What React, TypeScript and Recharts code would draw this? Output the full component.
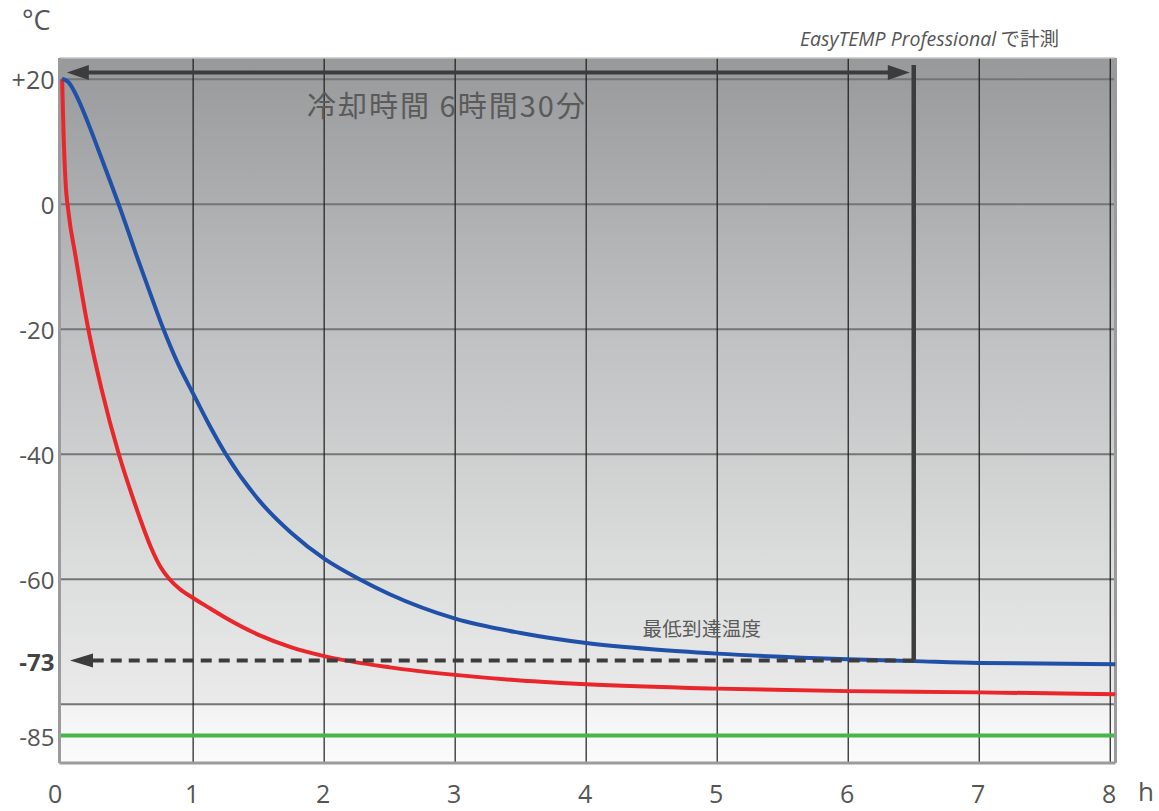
import React from 'react';
import { LineChart, Line, XAxis, YAxis, ReferenceLine, ReferenceArea, ReferenceDot } from 'recharts';

// ---- data ----
const hourTicks = [0, 1, 2, 3, 4, 5, 6, 7, 8];
const tempTicks = [20, 0, -20, -40, -60, -73, -85];
const gridTemps = [20, 0, -20, -40, -60, -80];
const gridHours = [1, 2, 3, 4, 5, 6, 7, 8];

const blueTime = [0, 0.05, 0.12, 0.2, 0.3, 0.44, 0.58, 0.68, 0.77, 0.88, 1.0, 1.12, 1.25, 1.5, 1.75, 2.0, 2.27, 2.5, 3.0, 3.5, 4.0, 4.5, 5.0, 6.0, 6.5, 7.0, 8.04];
const blueTemp = [20.1, 19.5, 16.9, 12.9, 7.4, -0.5, -8.9, -14.7, -19.8, -25.3, -30.3, -35.2, -40, -47.3, -52.6, -56.7, -60, -62.4, -66.3, -68.6, -70.2, -71.2, -71.9, -72.8, -73.1, -73.4, -73.6];

const redTime = [0, 0.01, 0.025, 0.05, 0.1, 0.2, 0.3, 0.433, 0.55, 0.6, 0.68, 0.75, 0.82, 0.9, 1.0, 1.1, 1.25, 1.5, 1.75, 2.0, 2.5, 3.0, 3.5, 4.0, 5.0, 6.0, 7.0, 8.04];
const redTemp = [20, 12, 4, -1.5, -8, -20, -29.5, -40, -47.6, -50.6, -55.0, -58.0, -60.0, -61.6, -63.0, -64.3, -66.2, -68.9, -70.9, -72.3, -74.1, -75.3, -76.2, -76.8, -77.5, -77.9, -78.1, -78.4];

const coolingHours = 6.5;
const minTemp = -73;
const floorTemp = -85;
const arrowTemp = 21.1;
const arrowLeftTip = 0.036;
const arrowRightTip = 6.47;
const dashLeftTip = 0.06;
const xDomain = [-0.02, 8.04];
const yDomain = [-89.4, 23.4];

const coolLabel = '冷却時間 6時間30分';
const coolLabelPos = { t: 1.87, v: 16.0 };
const minLabel = '最低到達温度';
const minLabelPos = { t: 4.43, v: -67.7 };

const blueData = blueTime.map((t, i) => ({ t, v: blueTemp[i] }));
const redData = redTime.map((t, i) => ({ t, v: redTemp[i] }));

const FONT = '"Open Sans", "Noto Sans", sans-serif';
const CJK = '"Noto Sans CJK JP", "Open Sans", sans-serif';
const DARK = '#3c3c3c';

const XTick = (props: any) => {
  const { x, y, payload } = props;
  return (
    <text x={x + (payload.value === 0 ? -7 : -1)} y={y + 40} textAnchor="middle" fill="#555" fontSize={25} fontFamily={FONT}>
      {payload.value}
    </text>
  );
};

const YTick = (props: any) => {
  const { x, y, payload } = props;
  const v = payload.value;
  const bold = v === minTemp;
  return (
    <text x={x - 5} y={y + 10} textAnchor="end" fill={bold ? '#444' : '#555'} fontWeight={bold ? 700 : 400} fontSize={v > 0 ? 25 : 24} fontFamily={FONT}>
      {v > 0 ? `+${v}` : `${v}`}
    </text>
  );
};

const leftHead = (len: number, half: number) => (p: any) => (
  <polygon points={`${p.cx},${p.cy} ${p.cx + len},${p.cy - half} ${p.cx + len},${p.cy + half}`} fill={DARK} />
);
const rightHead = (len: number, half: number) => (p: any) => (
  <polygon points={`${p.cx},${p.cy} ${p.cx - len},${p.cy - half} ${p.cx - len},${p.cy + half}`} fill={DARK} />
);
const textShape = (txt: string, size: number, spacing: number) => (p: any) => (
  <text x={p.cx} y={p.cy} fill="#5a5a5a" fontSize={size} letterSpacing={spacing} fontFamily={CJK} dominantBaseline="central">
    {txt}
  </text>
);

export default function App() {
  return (
    <div style={{ position: 'absolute', left: 0, top: 0, width: 1159, height: 811, background: '#fff' }}>
      <svg width={0} height={0} style={{ position: 'absolute' }}>
        <defs>
          <linearGradient id="bgGrad" x1="0" y1="0" x2="0" y2="1">
            <stop offset="0%" stopColor="#97999b" />
            <stop offset="35%" stopColor="#bbbdbe" />
            <stop offset="70%" stopColor="#dadbdb" />
            <stop offset="91.5%" stopColor="#eaeaea" />
            <stop offset="92%" stopColor="#f3f3f3" />
            <stop offset="100%" stopColor="#fbfbfb" />
          </linearGradient>
        </defs>
      </svg>
      <div style={{ position: 'absolute', left: 22, top: 6, fontFamily: FONT, fontSize: 27, color: '#555', lineHeight: 1 }}>°C</div>
      <div style={{ position: 'absolute', left: 800, top: 28, fontFamily: FONT, fontSize: 19.5, color: '#555', lineHeight: 1, whiteSpace: 'nowrap' }}>
        <span style={{ fontStyle: 'italic' }}>EasyTEMP Professional</span>
        <span style={{ fontFamily: CJK }}> で計測</span>
      </div>
      <div style={{ position: 'absolute', left: 1138, top: 778, fontFamily: FONT, fontSize: 26, color: '#555', lineHeight: 1 }}>h</div>
      <LineChart width={1159} height={811} margin={{ top: 58, right: 43.5, bottom: 0, left: 0 }}>
        <XAxis
          type="number"
          dataKey="t"
          domain={xDomain}
          ticks={hourTicks}
          allowDataOverflow
          axisLine={false}
          tickLine={false}
          tickSize={0}
          tickMargin={0}
          height={48}
          tick={<XTick />}
        />
        <YAxis
          type="number"
          dataKey="v"
          domain={yDomain}
          ticks={tempTicks}
          allowDataOverflow
          axisLine={false}
          tickLine={false}
          tickSize={0}
          tickMargin={0}
          width={59.5}
          tick={<YTick />}
        />
        <ReferenceArea x1={xDomain[0]} x2={xDomain[1]} y1={yDomain[0]} y2={yDomain[1]} fill="url(#bgGrad)" fillOpacity={1} stroke="none" />
        {gridTemps.map((g) => (
          <ReferenceLine key={'h' + g} y={g} stroke="#747576" strokeWidth={2} />
        ))}
        {gridHours.map((h) => (
          <ReferenceLine key={'v' + h} x={h} stroke="#1c1c1c" strokeWidth={1.2} />
        ))}
        <ReferenceLine y={floorTemp} stroke="#47b54a" strokeWidth={4} />
        <ReferenceLine y={yDomain[1]} stroke="#c4c4c4" strokeWidth={1.5} />
        <ReferenceLine x={xDomain[0]} stroke="#9b9b9e" strokeWidth={3} />
        <ReferenceLine x={xDomain[1]} stroke="#9b9b9e" strokeWidth={3} />
        <ReferenceLine y={yDomain[0]} stroke="#9b9b9e" strokeWidth={3} />

        <Line data={redData} dataKey="v" type="monotone" stroke="#e8262b" strokeWidth={4} dot={false} isAnimationActive={false} />
        <Line data={blueData} dataKey="v" type="monotone" stroke="#2150a8" strokeWidth={4} dot={false} isAnimationActive={false} />

        <ReferenceLine segment={[{ x: arrowLeftTip + 0.1, y: arrowTemp }, { x: arrowRightTip - 0.1, y: arrowTemp }]} stroke={DARK} strokeWidth={4} />
        <ReferenceDot x={arrowLeftTip} y={arrowTemp} r={0} shape={leftHead(22, 7.5)} />
        <ReferenceDot x={arrowRightTip} y={arrowTemp} r={0} shape={rightHead(22, 7.5)} />
        <ReferenceLine segment={[{ x: coolingHours, y: 22.3 }, { x: coolingHours, y: minTemp }]} stroke={DARK} strokeWidth={4.5} />
        <ReferenceLine segment={[{ x: coolingHours, y: minTemp }, { x: dashLeftTip + 0.1, y: minTemp }]} stroke={DARK} strokeWidth={4} strokeDasharray="11 7" />
        <ReferenceDot x={dashLeftTip} y={minTemp} r={0} shape={leftHead(23, 7)} />
        <ReferenceDot x={coolLabelPos.t} y={coolLabelPos.v} r={0} shape={textShape(coolLabel, 29, 2)} />
        <ReferenceDot x={minLabelPos.t} y={minLabelPos.v} r={0} shape={textShape(minLabel, 19.5, 0.3)} />
      </LineChart>
    </div>
  );
}
